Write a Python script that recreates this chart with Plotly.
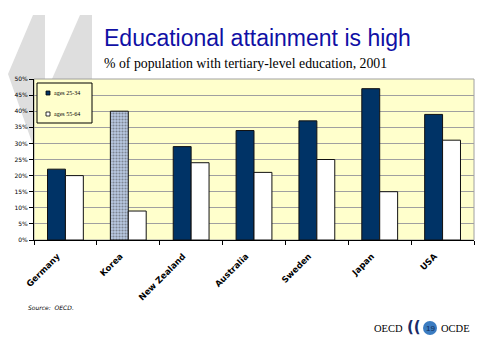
import plotly.graph_objects as go

countries = ["Germany", "Korea", "New Zealand", "Australia", "Sweden", "Japan", "USA"]
ages_25_34 = [22, 40, 29, 34, 37, 47, 39]
ages_55_64 = [20, 9, 24, 21, 25, 15, 31]
series_names = ["ages 25-34", "ages 55-64"]
y_ticks = [0, 5, 10, 15, 20, 25, 30, 35, 40, 45, 50]
y_tick_labels = [f"{v}%" for v in y_ticks]

W, H = 481, 338
X0, X1, Y0, Y1 = 34, 474, 79, 240  # plot area in pixels


def px(x):
    return (x - X0) / (X1 - X0)


def py(y):
    return (Y1 - y) / (Y1 - Y0)


NAVY = "#003366"
KOREA_BG = "#B8C8E2"

fig = go.Figure()
fig.add_trace(go.Bar(
    x=countries, y=ages_25_34, name=series_names[0],
    marker=dict(
        color=[KOREA_BG if c == "Korea" else NAVY for c in countries],
        line=dict(color="#111111", width=1),
        pattern=dict(shape=["." if c == "Korea" else "" for c in countries],
                     fgcolor="#2A4D80", size=3, solidity=0.4),
    ),
    showlegend=False,
))
fig.add_trace(go.Bar(
    x=countries, y=ages_55_64, name=series_names[1],
    marker=dict(color="#FFFFFF", line=dict(color="#111111", width=1)),
    showlegend=False,
))


def poly(points):
    s = "M " + " L ".join(f"{px(a):.5f},{py(b):.5f}" for a, b in points) + " Z"
    return s


shapes = [
    dict(type="path", xref="paper", yref="paper", layer="below",
         path=poly([(33, 15), (45, 15), (45, 79), (34, 79), (34, 148), (8, 74)]),
         fillcolor="#DEDEDE", line=dict(width=0)),
    dict(type="path", xref="paper", yref="paper", layer="below",
         path=poly([(80, 15), (92, 15), (92, 79), (52, 79)]),
         fillcolor="#DEDEDE", line=dict(width=0)),
    # plot border (grey, top/right)
    dict(type="rect", xref="paper", yref="paper", layer="below",
         x0=0, x1=1, y0=0, y1=1, line=dict(color="#A0A0A0", width=1)),
    # legend box
    dict(type="rect", xref="paper", yref="paper",
         x0=px(37), x1=px(92), y0=py(123), y1=py(83),
         fillcolor="#FFFFCC", line=dict(color="#000000", width=1)),
    dict(type="rect", xref="paper", yref="paper",
         x0=px(46), x1=px(50), y0=py(95), y1=py(91),
         fillcolor=NAVY, line=dict(color="#000000", width=0.8)),
    dict(type="rect", xref="paper", yref="paper",
         x0=px(46), x1=px(50), y0=py(116), y1=py(112),
         fillcolor="#FFFFFF", line=dict(color="#000000", width=0.8)),
    # footer circle
    dict(type="circle", xref="paper", yref="paper",
         x0=px(423), x1=px(437), y0=py(335), y1=py(321),
         fillcolor="#3B7CC1", line=dict(width=0)),
]


def note(text, x, y, size, family, color="#000000", xanchor="left"):
    return dict(text=text, x=px(x), y=py(y), xref="paper", yref="paper",
                xanchor=xanchor, yanchor="middle", showarrow=False,
                font=dict(family=family, size=size, color=color))


annotations = [
    note("Educational attainment is high", 102, 38, 23, "Liberation Sans, Arial", "#1010A5"),
    note("% of population with tertiary-level education, 2001", 102, 63, 13.8,
         "Liberation Serif, Times New Roman"),
    note(series_names[0], 52, 93, 6, "Liberation Serif"),
    note(series_names[1], 52, 114, 6, "Liberation Serif"),
    note("<i>Source:  OECD.</i>", 26, 307, 6, "DejaVu Sans"),
    note("OECD", 405, 328, 10.5, "Liberation Serif", xanchor="right"),
    note("<b>((</b>", 414, 327, 15, "DejaVu Sans", "#1A2A66", xanchor="center"),
    note("19", 430, 328, 8, "Liberation Sans", "#0E2A55", xanchor="center"),
    note("OCDE", 439, 328, 10.5, "Liberation Serif"),
]

fig.update_layout(
    width=W, height=H,
    margin=dict(l=X0, r=W - X1, t=Y0, b=H - Y1, pad=0),
    paper_bgcolor="#FFFFFF",
    plot_bgcolor="#FFFFCC",
    barmode="group", bargap=0.43, bargroupgap=0,
    shapes=shapes, annotations=annotations,
    showlegend=False,
)
fig.update_xaxes(
    type="category", tickangle=-45, showgrid=False,
    showline=True, linecolor="#000000", linewidth=1,
    ticks="outside", ticklen=4, tickcolor="#000000", tickson="boundaries",
    ticklabelstandoff=7, ticklabelshift=-8,
    tickfont=dict(family="DejaVu Sans", size=8.5, color="#000000", weight="bold"),
)
fig.update_yaxes(
    range=[0, 50], tickvals=y_ticks, ticktext=y_tick_labels,
    showgrid=True, gridcolor="#A0A0A0", gridwidth=1,
    showline=True, linecolor="#000000", linewidth=1,
    ticks="outside", ticklen=4, tickcolor="#000000",
    tickfont=dict(family="DejaVu Sans", size=6, color="#000000"),
    zeroline=False,
)

fig.write_html("out.html", config={"displayModeBar": False},
               post_script="document.body.style.margin='0';")
